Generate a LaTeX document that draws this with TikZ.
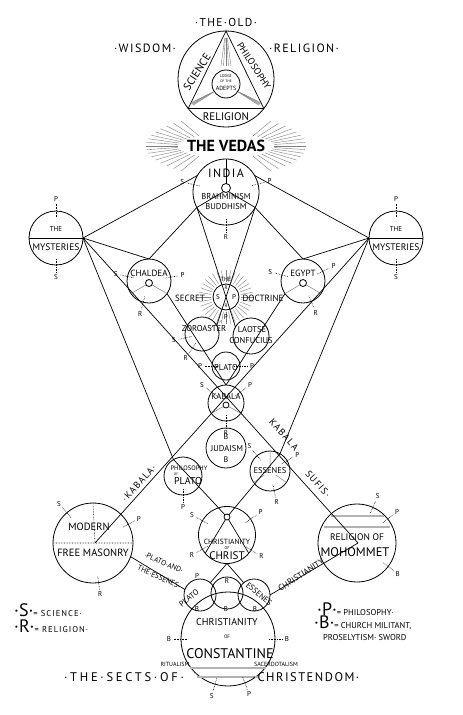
\documentclass[tikz,border=0pt]{standalone}
\usepackage{fontspec}
\setmainfont{PT Sans}
\newfontfamily\spaced[LetterSpace=12]{PT Sans}
\newfontfamily\widespaced[LetterSpace=22]{PT Sans}
\usetikzlibrary{calc}

\tikzset{
  ring/.style={draw, circle, inner sep=0pt, outer sep=0pt, line width=0.8pt},
  link/.style={line width=0.7pt},
  spoke/.style={gray, line width=0.5pt},
  tick/.style={densely dotted, line width=0.6pt},
  ray/.style={gray, line width=0.4pt},
  txt/.style={font=\fontsize{#1}{#1}\selectfont, inner sep=0pt},
  lab/.style={font=\fontsize{7}{7}\selectfont, inner sep=0pt},
}
% letter on a dotted spoke: circle, angle, letter, name
\newcommand{\rimlabel}[4]{%
  \node[lab] (#4) at ($(#1.#2)!-12pt!(#1.center)$) {#3};
  \draw[tick] ($(#1.#2)!6pt!(#1.center)$) -- ($(#1.#2)!-7pt!(#1.center)$);}

\begin{document}
\begin{tikzpicture}[x=1pt,y=-1pt]
\useasboundingbox (0,0) rectangle (463,715);

% sunburst of the vedas
\coordinate (vc) at (226,146);
\foreach \a in {124,131,...,236,-56,-49,...,56}
  \draw[ray] ($(vc)+(\a:48 and 12)$) -- ($(vc)+(\a:80 and 30)$);

% the old wisdom religion
\node[ring, fill=white, minimum size=96pt] (wis) at (226,79) {};
\draw[link] (wis.90) -- (wis.218) -- (wis.322) -- cycle;
\foreach \d in {-5,-2.5,0,2.5,5}
  \draw[ray] (226+\d*0.25,38) -- (226+\d,66);
\foreach \d in {-4,-2,0,2,4} {
  \draw[ray] (192+\d*0.3,104+\d*0.3) -- (213+\d,92-\d*0.5);
  \draw[ray] (260-\d*0.3,104+\d*0.3) -- (239-\d,92-\d*0.5);}
\node[ring, fill=white, minimum size=28pt] (adepts) at (226,84) {};
\node[txt=4] (lodge) at (226,76) {LODGE};
\node[txt=3.5] (ofthe) at (226,81.5) {OF THE};
\node[txt=6] (adept) at (226,88) {ADEPTS};
\node[txt=11.5] (old) at (226,22) {\spaced ·THE·OLD·};
\node[txt=12] (wisdom) at (145,48) {\spaced ·WISDOM·};
\node[txt=12] (relig) at (304,48) {\spaced ·RELIGION·};
\node[txt=11, rotate=57] (sci) at (197,72) {SCIENCE};
\node[txt=9.5, rotate=-57] (phi) at (254,66) {PHILOSOPHY};
\node[txt=11] (rel) at (226,117) {RELIGION};
\node[txt=16] (vedas) at (vc) {\bfseries THE VEDAS};

% india
\node[ring, fill=white, minimum size=66pt] (india) at (226,192) {};
\node[ring, minimum size=9pt] (indot) at (226,188) {};
\draw[link] (india.north) -- (indot.north);
\draw[link] (indot.235) -- (india.208);
\draw[link] (indot.305) -- (india.332);
\node[txt=12] (indiat) at (226,173) {\spaced INDIA};
\node[txt=8.5] (brah) at (226,197) {BRAHMINISM};
\node[txt=8.5] (budd) at (226,207) {BUDDHISM};
\rimlabel{india}{167}{S}{indS}
\rimlabel{india}{14}{P}{indP}
\rimlabel{india}{270}{R}{indR}

% the mysteries
\node[ring, minimum size=54pt] (mysL) at (56,238) {};
\node[ring, minimum size=54pt] (mysR) at (396,238) {};
\draw[link] (mysL.west) -- (mysL.east);
\draw[link] (mysR.west) -- (mysR.east);
\node[txt=7] (mysLa) at (56,229) {THE};
\node[txt=9.5] (mysLb) at (56,247) {MYSTERIES};
\node[txt=7] (mysRa) at (396,229) {THE};
\node[txt=9.5] (mysRb) at (396,247) {MYSTERIES};
\rimlabel{mysL}{90}{P}{mysLP}
\rimlabel{mysL}{270}{S}{mysLS}
\rimlabel{mysR}{90}{P}{mysRP}
\rimlabel{mysR}{270}{S}{mysRS}

% chaldea and egypt
\node[ring, minimum size=44pt] (chal) at (149,281) {};
\node[ring, minimum size=7pt] (chaldot) at (149,283) {};
\draw[spoke] (chaldot) -- (chal.215) (chaldot) -- (chal.325);
\node[txt=9] (chalt) at (149,273) {CHALDEA};
\rimlabel{chal}{168}{S}{chalS}
\rimlabel{chal}{10}{P}{chalP}
\rimlabel{chal}{255}{R}{chalR}
\node[ring, minimum size=44pt] (egy) at (303,281) {};
\node[ring, minimum size=7pt] (egydot) at (303,283) {};
\draw[spoke] (egydot) -- (egy.215) (egydot) -- (egy.325);
\node[txt=9] (egyt) at (303,273) {EGYPT};
\rimlabel{egy}{164}{S}{egyS}
\rimlabel{egy}{26}{P}{egyP}
\rimlabel{egy}{292}{R}{egyR}

% secret doctrine
\coordinate (sdc) at (226,297);
\foreach \a in {0,10,...,350}
  \draw[ray] ($(sdc)+(\a:15)$) -- ($(sdc)+(\a:27)$);
\node[ring, fill=white, minimum size=26pt] (sd) at (sdc) {};
\node[txt=6] (sdthe) at (226,279) {THE};
\node[txt=9] (secret) at (190,298) {SECRET};
\node[txt=9] (doctr) at (263,298) {DOCTRINE};
\node[lab] (sdS) at (218,297) {S};
\node[lab] (sdP) at (234,297) {P};
\node[txt=5] (sdR1) at (226,288) {R};
\node[txt=5] (sdR2) at (226,306) {R};

% zoroaster, laotse, plato
\node[ring, minimum size=34pt] (zor) at (202,334) {};
\node[ring, minimum size=36pt] (lao) at (251,336) {};
\node[ring, minimum size=28pt] (plato) at (226,366) {};
\node[txt=8.5] (zort) at (204,329) {ZOROASTER};
\node[txt=8.5] (laot) at (252,330) {LAOTSE};
\node[txt=8.5] (conf) at (251,341) {CONFUCIUS};
\node[txt=8.5] (platot) at (226,368) {PLATO};
\rimlabel{zor}{193}{S}{zorS}
\rimlabel{zor}{236}{R}{zorR}
\rimlabel{zor}{35}{P}{zorP}
\rimlabel{plato}{180}{P}{platoP1}
\rimlabel{plato}{0}{P}{platoP2}

% kabala, judaism
\node[ring, minimum size=36pt] (kab) at (226,403) {};
\node[ring, minimum size=6pt] (kabdot) at (226,405) {};
\draw[spoke] (kabdot) -- (kab.215) (kabdot) -- (kab.325);
\node[txt=8.5] (kabt) at (226,397) {KABALA};
\rimlabel{kab}{143}{S}{kabS}
\rimlabel{kab}{37}{P}{kabP}
\rimlabel{kab}{270}{R}{kabR}
\node[ring, minimum size=40pt] (jud) at (226,448) {};
\node[txt=8] (judb1) at (226,437) {B};
\node[txt=8.5] (judt) at (227,449) {JUDAISM};
\node[txt=8] (judb2) at (226,460) {B};

% philosophy of plato, essenes
\node[ring, minimum size=38pt] (phil) at (183,476) {};
\node[txt=6.5] (philt) at (189,468) {PHILOSOPHY};
\node[txt=3.5] (philof) at (176,474) {OF};
\node[txt=10] (philp) at (188,481) {PLATO};
\rimlabel{phil}{270}{P}{philP}
\node[ring, minimum size=40pt] (ess) at (270,471) {};
\draw[spoke] (ess.center) -- (ess.90) (ess.center) -- (ess.215) (ess.center) -- (ess.325);
\node[txt=8.5, fill=white, inner sep=0.5pt] (esst) at (270,471) {ESSENES};
\rimlabel{ess}{130}{S}{essS}
\rimlabel{ess}{31}{P}{essP}
\rimlabel{ess}{282}{R}{essR}

% masonry and mohommet
\node[ring, minimum size=80pt] (mason) at (93,543) {};
\coordinate (masonc) at (95,543);
\draw[tick] (mason.west) -- (mason.east) (mason.north) -- (masonc);
\node[txt=10.5] (modern) at (89,527) {MODERN};
\node[txt=10.5] (free) at (93,553) {FREE MASONRY};
\rimlabel{mason}{131}{S}{masonS}
\rimlabel{mason}{28}{P}{masonP}
\rimlabel{mason}{278}{R}{masonR}
\node[ring, minimum size=78pt] (moh) at (357,543) {};
\coordinate (mohc) at (358,543);
\draw[gray!60, line width=1.2pt] (331,516) -- (384,516) (324,527) -- (390,527);
\node[txt=9.5] (moht1) at (357,537) {RELIGION OF};
\node[txt=12.5] (moht2) at (355,552) {MOHOMMET};
\rimlabel{moh}{66}{S}{mohS}
\rimlabel{moh}{38}{P}{mohP}
\rimlabel{moh}{323}{B}{mohB}

% christianity of christ
\node[ring, minimum size=57pt] (christ) at (227,535) {};
\node[ring, minimum size=6pt] (chrdot) at (227,517) {};
\node[txt=7.5] (chrt1) at (227,542) {CHRISTIANITY};
\node[txt=4] (chrt2) at (227,548.5) {OF};
\node[txt=11] (chrt3) at (227,556) {CHRIST};
\rimlabel{christ}{150}{S}{chrS}
\rimlabel{christ}{34}{P}{chrP}
\rimlabel{christ}{210}{R}{chrR1}
\rimlabel{christ}{328}{R}{chrR2}

% plato, the religion, the essenes
\node[ring, minimum size=32pt] (sp) at (200,595) {};
\node[ring, minimum size=32pt] (sr) at (227,593) {};
\node[ring, minimum size=32pt] (se) at (254,595) {};

% christianity of constantine
\node[ring, minimum size=94pt] (const) at (228,639) {};
\draw[gray!60, line width=1.1pt] (190,668) -- (266,668) (197,677) -- (259,677);
\node[txt=10] (const1) at (227,622) {CHRISTIANITY};
\node[txt=5] (const2) at (227,637) {OF};
\node[txt=14] (const3) at (230,654) {CONSTANTINE};
\rimlabel{const}{180}{B}{constB1}
\rimlabel{const}{0}{B}{constB2}
\rimlabel{const}{254}{S}{constS}
\rimlabel{const}{291}{P}{constP}
\node[txt=6] (ritual) at (175,664) {RITUALISM};
\node[txt=6] (sacer) at (276,664) {SACERDOTALISM};
\node[lab] (spP) at (197,576) {P};
\node[lab] (srR) at (227,581) {R};
\node[lab] (spB) at (197,609) {B};
\node[lab] (srB) at (226,609) {B};
\node[lab] (seB) at (255,609) {B};
\node[txt=8, rotate=38] (spt) at (189,598) {PLATO};
\node[txt=8, rotate=-40] (set) at (259,594) {ESSENES};

% the lines of descent
\draw[link] (mysL.east) -- (india.150);
\draw[link] (mysR.west) -- (india.30);
\draw[link] (mysL.east) -- (chal.north) -- (india.208);
\draw[link] (mysR.west) -- (egy.north) -- (india.332);
\draw[link] (india.208) -- (sd.center) -- (lao.150);
\draw[link] (india.332) -- (sd.center) -- (zor.30);
\draw[link] (chal.-35) -- (kab.north);
\draw[link] (egy.215) -- (kab.north);
\draw[link] (mysL.east) -- (mohc);
\draw[link] (mysR.west) -- (masonc);
\draw[link] (mysL.east) -- (phil.120) -- (chrdot);
\draw[link] (mysR.west) -- (ess.60) -- (chrdot);
\draw[link] (chrdot) -- (christ.220) (chrdot) -- (christ.320);
\draw[link] (christ.south) -- (sp.50) (christ.south) -- (se.130);
\draw[link] (mason.-20) -- (sp.160);
\draw[link] (mohc) -- (se.east);

% names along the lines
\node[txt=9.5, rotate=48] (kabL) at (139,483) {\spaced ·KABALA·};
\node[txt=9.5, rotate=-48] (kabR) at (284,435) {\spaced KABALA};
\node[txt=9.5, rotate=-48] (sufis) at (318,484) {\spaced SUFIS·};
\node[txt=7.5, rotate=-24] (pla) at (164,563) {·PLATO·AND·};
\node[txt=7.5, rotate=-24] (ess2) at (159,577) {THE·ESSENES·};
\node[txt=8.5, rotate=33] (chry) at (301,575) {CHRISTIANITY};

% the keys
\node[txt=9, anchor=west] (keyS) at (14,610) {\fontsize{18}{18}\selectfont ·S·\fontsize{8.5}{8.5}\selectfont\spaced= SCIENCE·};
\node[txt=9, anchor=west] (keyR) at (14,626) {\fontsize{18}{18}\selectfont ·R·\fontsize{8.5}{8.5}\selectfont\spaced= RELIGION·};
\node[txt=9, anchor=west] (keyP) at (317,609) {\fontsize{18}{18}\selectfont ·P·\fontsize{8.5}{8.5}\selectfont= PHILOSOPHY·};
\node[txt=9, anchor=west] (keyB) at (314,623) {\fontsize{18}{18}\selectfont ·B·\fontsize{8.5}{8.5}\selectfont= CHURCH MILITANT,};
\node[txt=8.5, anchor=west] (keyB2) at (323,638) {PROSELYTISM· SWORD};
\node[txt=12.5] (sects) at (124,677) {\widespaced ·THE·SECTS·OF·};
\node[txt=12.5] (chdom) at (306,677) {\spaced ·CHRISTENDOM·};
\end{tikzpicture}
\end{document}
